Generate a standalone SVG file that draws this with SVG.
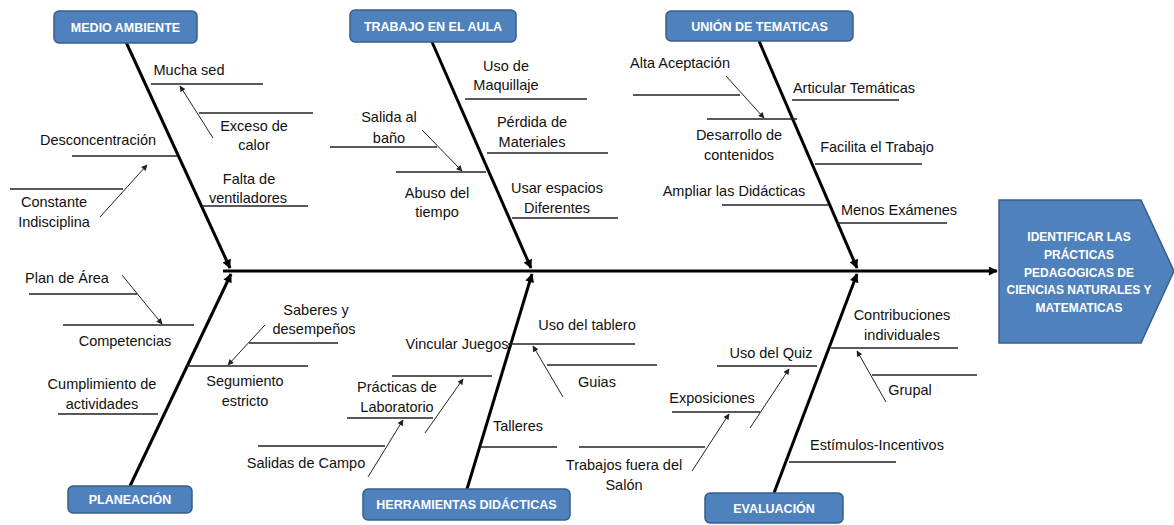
<svg xmlns="http://www.w3.org/2000/svg" width="1174" height="525" viewBox="0 0 1174 525">
<defs>
<style>
.box{fill:#4F81BD;stroke:#385D8A;stroke-width:1.5}
.bt{font-family:"Liberation Sans",Arial,sans-serif;font-weight:bold;font-size:12.5px;fill:#fff;text-anchor:middle}
.ht{font-family:"Liberation Sans",Arial,sans-serif;font-weight:bold;font-size:12px;fill:#fff;text-anchor:middle}
.t{font-family:"Liberation Sans",Arial,sans-serif;font-size:14.5px;fill:#111;text-anchor:middle}
.bone{stroke:#000;stroke-width:3;fill:none}
.ln{stroke:#222;stroke-width:1.3;fill:none}
.ar{stroke:#222;stroke-width:1;fill:none;marker-end:url(#sa)}
</style>
<marker id="ba" viewBox="0 0 10 10" refX="9" refY="5" markerWidth="11" markerHeight="9" markerUnits="userSpaceOnUse" orient="auto"><path d="M0,0 L10,5 L0,10 z" fill="#000"/></marker>
<marker id="sa" viewBox="0 0 10 10" refX="9" refY="5" markerWidth="7" markerHeight="6" markerUnits="userSpaceOnUse" orient="auto"><path d="M0,0 L10,5 L0,10 z" fill="#222"/></marker>
</defs>
<rect width="1174" height="525" fill="#fff"/>

<g id="connectors">
<line class="bone" x1="223" y1="271" x2="997" y2="271" marker-end="url(#ba)"/>
<line class="bone" x1="126" y1="42" x2="230" y2="268" marker-end="url(#ba)"/>
<line class="bone" x1="432" y1="42" x2="531" y2="268" marker-end="url(#ba)"/>
<line class="bone" x1="759" y1="41" x2="857" y2="268" marker-end="url(#ba)"/>
<line class="bone" x1="130" y1="486" x2="231" y2="274" marker-end="url(#ba)"/>
<line class="bone" x1="467" y1="489" x2="532" y2="274" marker-end="url(#ba)"/>
<line class="bone" x1="774" y1="493" x2="857" y2="274" marker-end="url(#ba)"/>

<!-- Medio ambiente -->
<line class="ln" x1="151" y1="84" x2="263" y2="84"/>
<line class="ln" x1="199" y1="113" x2="313" y2="113"/>
<line class="ln" x1="72" y1="156" x2="177" y2="156"/>
<line class="ln" x1="10" y1="189" x2="123" y2="189"/>
<line class="ln" x1="202" y1="206" x2="308" y2="206"/>
<line class="ar" x1="213" y1="138" x2="180" y2="86"/>
<line class="ar" x1="100" y1="217" x2="147" y2="165"/>

<!-- Trabajo en el aula -->
<line class="ln" x1="465" y1="99" x2="587" y2="99"/>
<line class="ln" x1="330" y1="147" x2="437" y2="147"/>
<line class="ln" x1="396" y1="172" x2="486" y2="172"/>
<line class="ln" x1="487" y1="153" x2="608" y2="153"/>
<line class="ln" x1="512" y1="218" x2="618" y2="218"/>
<line class="ar" x1="422" y1="130" x2="462" y2="171"/>

<!-- Union de tematicas -->
<line class="ln" x1="633" y1="95" x2="740" y2="95"/>
<line class="ln" x1="707" y1="119" x2="797" y2="119"/>
<line class="ln" x1="792" y1="100" x2="899" y2="100"/>
<line class="ln" x1="815" y1="164" x2="922" y2="164"/>
<line class="ln" x1="722" y1="205" x2="829" y2="205"/>
<line class="ln" x1="837" y1="223" x2="947" y2="223"/>
<line class="ar" x1="726" y1="76" x2="764" y2="118"/>

<!-- Planeacion -->
<line class="ln" x1="29" y1="294" x2="137" y2="294"/>
<line class="ln" x1="63" y1="325" x2="194" y2="325"/>
<line class="ln" x1="58" y1="414" x2="158" y2="414"/>
<line class="ln" x1="187" y1="366" x2="308" y2="366"/>
<line class="ln" x1="249" y1="343" x2="338" y2="343"/>
<line class="ln" x1="258" y1="446" x2="385" y2="446"/>
<line class="ar" x1="122" y1="275" x2="162" y2="324"/>
<line class="ar" x1="265" y1="325" x2="228" y2="365"/>

<!-- Herramientas didacticas -->
<line class="ln" x1="508" y1="344" x2="635" y2="344"/>
<line class="ln" x1="547" y1="365" x2="657" y2="365"/>
<line class="ln" x1="392" y1="376" x2="492" y2="376"/>
<line class="ln" x1="347" y1="418" x2="433" y2="418"/>
<line class="ln" x1="480" y1="447" x2="557" y2="447"/>
<line class="ln" x1="579" y1="447" x2="705" y2="447"/>
<line class="ar" x1="563" y1="397" x2="533" y2="346"/>
<line class="ar" x1="425" y1="433" x2="463" y2="379"/>
<line class="ar" x1="368" y1="477" x2="403" y2="420"/>
<line class="ar" x1="692" y1="471" x2="729" y2="414"/>

<!-- Evaluacion -->
<line class="ln" x1="717" y1="366" x2="817" y2="366"/>
<line class="ln" x1="672" y1="412" x2="760" y2="412"/>
<line class="ln" x1="831" y1="348" x2="958" y2="348"/>
<line class="ln" x1="872" y1="375" x2="977" y2="375"/>
<line class="ln" x1="789" y1="462" x2="896" y2="462"/>
<line class="ar" x1="750" y1="428" x2="789" y2="369"/>
<line class="ar" x1="886" y1="402" x2="857" y2="351"/>
</g>

<g id="node-medio-ambiente">
<rect class="box" x="54" y="11" width="143" height="32" rx="5"/>
<text class="bt" x="125.5" y="31.5">MEDIO AMBIENTE</text>
<text class="t" x="189" y="75">Mucha sed</text>
<text class="t" x="254" y="131">Exceso de</text>
<text class="t" x="254" y="150">calor</text>
<text class="t" x="98" y="145">Desconcentración</text>
<text class="t" x="54" y="207">Constante</text>
<text class="t" x="54" y="227">Indisciplina</text>
<text class="t" x="249" y="184">Falta de</text>
<text class="t" x="248" y="203">ventiladores</text>
</g>

<g id="node-trabajo-en-el-aula">
<rect class="box" x="350" y="10" width="166" height="32" rx="5"/>
<text class="bt" x="433" y="30.5">TRABAJO EN EL AULA</text>
<text class="t" x="506" y="71">Uso de</text>
<text class="t" x="506" y="90">Maquillaje</text>
<text class="t" x="389" y="122">Salida al</text>
<text class="t" x="389" y="143">baño</text>
<text class="t" x="437" y="198">Abuso del</text>
<text class="t" x="437" y="217">tiempo</text>
<text class="t" x="532" y="127">Pérdida de</text>
<text class="t" x="532" y="147">Materiales</text>
<text class="t" x="557" y="193">Usar espacios</text>
<text class="t" x="557" y="213">Diferentes</text>
</g>

<g id="node-union-de-tematicas">
<rect class="box" x="666" y="11" width="187" height="30" rx="5"/>
<text class="bt" x="759.5" y="30.5">UNIÓN DE TEMATICAS</text>
<text class="t" x="680" y="68">Alta Aceptación</text>
<text class="t" x="739" y="140">Desarrollo de</text>
<text class="t" x="739" y="160">contenidos</text>
<text class="t" x="854" y="93">Articular Temáticas</text>
<text class="t" x="877" y="152">Facilita el Trabajo</text>
<text class="t" x="734" y="196">Ampliar las Didácticas</text>
<text class="t" x="899" y="215">Menos Exámenes</text>
</g>

<g id="node-planeacion">
<rect class="box" x="68" y="486" width="124" height="27" rx="5"/>
<text class="bt" x="130" y="504">PLANEACIÓN</text>
<text class="t" x="67" y="283">Plan de Área</text>
<text class="t" x="125" y="346">Competencias</text>
<text class="t" x="102" y="389">Cumplimiento de</text>
<text class="t" x="102" y="409">actividades</text>
<text class="t" x="245" y="386">Segumiento</text>
<text class="t" x="245" y="406">estricto</text>
<text class="t" x="316" y="315">Saberes y</text>
<text class="t" x="314" y="334">desempeños</text>
<text class="t" x="306" y="468">Salidas de Campo</text>
</g>

<g id="node-herramientas-didacticas">
<rect class="box" x="363" y="489" width="207" height="31" rx="5"/>
<text class="bt" x="466.5" y="509">HERRAMIENTAS DIDÁCTICAS</text>
<text class="t" x="457" y="349">Vincular Juegos</text>
<text class="t" x="587" y="330">Uso del tablero</text>
<text class="t" x="597" y="387">Guias</text>
<text class="t" x="397" y="392">Prácticas de</text>
<text class="t" x="397" y="412">Laboratorio</text>
<text class="t" x="518" y="431">Talleres</text>
<text class="t" x="624" y="470">Trabajos fuera del</text>
<text class="t" x="624" y="490">Salón</text>
</g>

<g id="node-evaluacion">
<rect class="box" x="705" y="493" width="138" height="30" rx="5"/>
<text class="bt" x="774" y="512.5">EVALUACIÓN</text>
<text class="t" x="771" y="358">Uso del Quiz</text>
<text class="t" x="712" y="403">Exposiciones</text>
<text class="t" x="902" y="320">Contribuciones</text>
<text class="t" x="902" y="340">individuales</text>
<text class="t" x="910" y="395">Grupal</text>
<text class="t" x="877" y="450">Estímulos-Incentivos</text>
</g>

<g id="node-head">
<polygon class="box" points="999,200 1141,200 1174,271 1141,343 999,343"/>
<text class="ht" x="1079" y="241">IDENTIFICAR LAS</text>
<text class="ht" x="1079" y="259">PRÁCTICAS</text>
<text class="ht" x="1079" y="277">PEDAGOGICAS DE</text>
<text class="ht" x="1079" y="294">CIENCIAS NATURALES Y</text>
<text class="ht" x="1079" y="312">MATEMATICAS</text>
</g>
</svg>
